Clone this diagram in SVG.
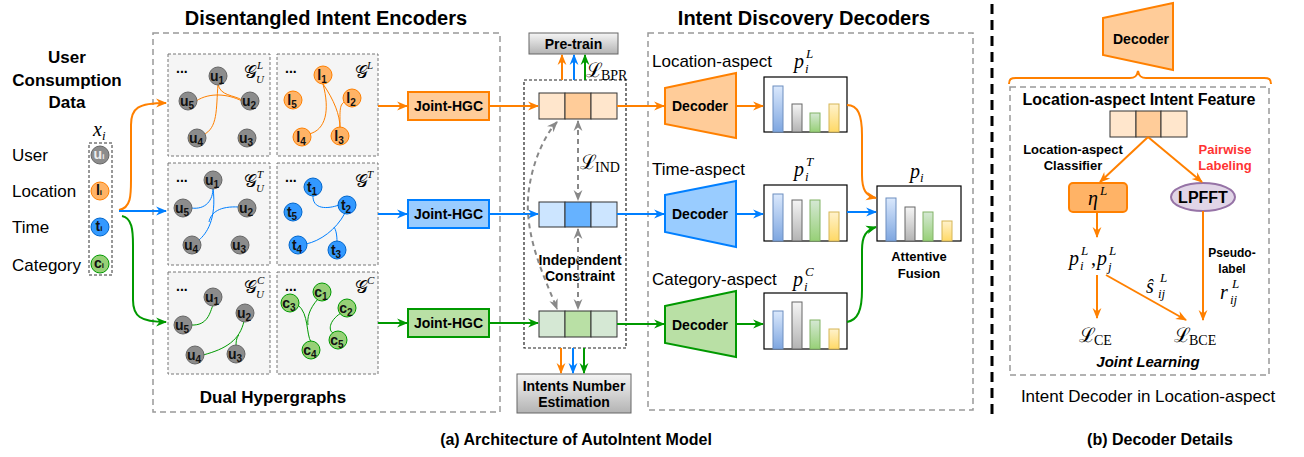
<svg xmlns="http://www.w3.org/2000/svg" width="1304" height="457" viewBox="0 0 1304 457">
<style>
.t{font-family:"Liberation Sans",Arial,sans-serif;fill:#000}
.b{font-weight:bold}
.m{font-family:"Liberation Serif","DejaVu Serif",serif;font-style:italic;fill:#000}
.cal{font-family:"DejaVu Serif","Liberation Serif",serif;fill:#000}
.rm{font-family:"Liberation Serif","DejaVu Serif",serif;fill:#000}
.sub{fill:#f5f5f5;stroke:#777;stroke-dasharray:3 2;stroke-width:1}
.big{fill:none;stroke:#999;stroke-dasharray:6 4;stroke-width:1.5}
.nu{fill:#8c8c8c;stroke:#666;stroke-width:1}
.no{fill:#FFB366;stroke:#FF8000;stroke-width:1}
.nb{fill:#3399FF;stroke:#0066CC;stroke-width:1}
.ng{fill:#97D077;stroke:#009900;stroke-width:1}
.nl{font-family:"Liberation Sans",Arial,sans-serif;font-weight:bold;font-size:14px;fill:#111;text-anchor:middle}
.eo{fill:none;stroke:#FF8000;stroke-width:1}
.eb{fill:none;stroke:#007FFF;stroke-width:1}
.eg{fill:none;stroke:#009900;stroke-width:1}
.ao{fill:none;stroke:#FF8000;stroke-width:2}
.ab{fill:none;stroke:#007FFF;stroke-width:2}
.ag{fill:none;stroke:#009900;stroke-width:2}
.ad{fill:none;stroke:#888;stroke-width:2;stroke-dasharray:5 4}
.cell{stroke:#333;stroke-width:1}
.chart{fill:#fff;stroke:#000;stroke-width:1.2}
</style>
<defs>
<marker id="mo" viewBox="0 0 10 10" refX="9" refY="5" markerWidth="11" markerHeight="11" markerUnits="userSpaceOnUse" orient="auto"><path d="M0,1 L10,5 L0,9 L3,5 z" fill="#FF8000"/></marker>
<marker id="mb" viewBox="0 0 10 10" refX="9" refY="5" markerWidth="11" markerHeight="11" markerUnits="userSpaceOnUse" orient="auto"><path d="M0,1 L10,5 L0,9 L3,5 z" fill="#007FFF"/></marker>
<marker id="mg" viewBox="0 0 10 10" refX="9" refY="5" markerWidth="11" markerHeight="11" markerUnits="userSpaceOnUse" orient="auto"><path d="M0,1 L10,5 L0,9 L3,5 z" fill="#009900"/></marker>
<marker id="md" viewBox="0 0 10 10" refX="9" refY="5" markerWidth="11" markerHeight="11" markerUnits="userSpaceOnUse" orient="auto-start-reverse"><path d="M0,1 L10,5 L0,9 L3,5 z" fill="#888"/></marker>
<linearGradient id="gray" x1="0" y1="0" x2="0" y2="1"><stop offset="0" stop-color="#F5F5F5"/><stop offset="1" stop-color="#B3B3B3"/></linearGradient>
<linearGradient id="gbl" x1="0" y1="0" x2="0" y2="1"><stop offset="0" stop-color="#DAE8FC"/><stop offset="1" stop-color="#7EA6E0"/></linearGradient>
<linearGradient id="ggy" x1="0" y1="0" x2="0" y2="1"><stop offset="0" stop-color="#F5F5F5"/><stop offset="1" stop-color="#B3B3B3"/></linearGradient>
<linearGradient id="ggr" x1="0" y1="0" x2="0" y2="1"><stop offset="0" stop-color="#D5E8D4"/><stop offset="1" stop-color="#97D077"/></linearGradient>
<linearGradient id="gye" x1="0" y1="0" x2="0" y2="1"><stop offset="0" stop-color="#FFF2CC"/><stop offset="1" stop-color="#FFD966"/></linearGradient>
</defs>

<!-- Titles -->
<text class="t b" x="326" y="25" font-size="20" text-anchor="middle">Disentangled Intent Encoders</text>
<text class="t b" x="804" y="25" font-size="20" text-anchor="middle">Intent Discovery Decoders</text>

<!-- Input data -->
<g id="input">
<text class="t b" font-size="17" text-anchor="middle"><tspan x="67" y="63">User</tspan><tspan x="67" y="86">Consumption</tspan><tspan x="67" y="108">Data</tspan></text>
<text class="m" x="93" y="136" font-size="20">x<tspan font-size="13" dy="4">i</tspan></text>
<rect x="89" y="143" width="23" height="132" fill="none" stroke="#333" stroke-dasharray="3 2"/>
<text class="t" font-size="17"><tspan x="12" y="161">User</tspan><tspan x="12" y="197">Location</tspan><tspan x="12" y="233">Time</tspan><tspan x="12" y="271">Category</tspan></text>
<circle class="nu" cx="100" cy="155" r="9"/><text class="nl" x="99" y="159" font-size="11" fill="#eee" style="fill:#eee">u<tspan font-size="8">i</tspan></text>
<circle class="no" cx="100" cy="191" r="9"/><text class="nl" x="99" y="195" font-size="11">l<tspan font-size="8">i</tspan></text>
<circle class="nb" cx="100" cy="227" r="9"/><text class="nl" x="99" y="231" font-size="11">t<tspan font-size="8">i</tspan></text>
<circle class="ng" cx="100" cy="264" r="9"/><text class="nl" x="99" y="268" font-size="11">c<tspan font-size="8">i</tspan></text>
</g>

<!-- Encoder panel -->
<g id="encoder-panel">
<rect class="big" x="153" y="33" width="347" height="379"/>
<text class="t b" x="273" y="403" font-size="17" text-anchor="middle">Dual Hypergraphs</text>
</g>

<!-- Hypergraph row 1 (location) -->
<g id="hg-user-L">
<rect class="sub" x="168" y="54" width="102" height="102"/>
<text class="t b" x="176" y="73" font-size="14">...</text>
<text class="cal" x="244" y="78" font-size="18">𝒢</text><text class="m" x="257" y="69" font-size="11">L</text><text class="m" x="256" y="83" font-size="11">U</text>
<path class="eo" d="M196,101 C210,92 228,94 242,101"/>
<path class="eo" d="M218,84 C220,96 234,95 242,100"/>
<path class="eo" d="M218,84 C216,110 218,128 203,135"/>
<circle class="nu" cx="218" cy="76" r="9"/><text class="nl" x="217" y="81">u<tspan font-size="10" dy="3">1</tspan></text>
<circle class="nu" cx="188" cy="101" r="9"/><text class="nl" x="187" y="106">u<tspan font-size="10" dy="3">5</tspan></text>
<circle class="nu" cx="250" cy="101" r="9"/><text class="nl" x="249" y="106">u<tspan font-size="10" dy="3">2</tspan></text>
<circle class="nu" cx="197" cy="138" r="9"/><text class="nl" x="196" y="143">u<tspan font-size="10" dy="3">4</tspan></text>
<circle class="nu" cx="247" cy="138" r="9"/><text class="nl" x="246" y="143">u<tspan font-size="10" dy="3">3</tspan></text>
</g>
<g id="hg-item-L">
<rect class="sub" x="277" y="54" width="101" height="102"/>
<text class="t b" x="285" y="73" font-size="14">...</text>
<text class="cal" x="355" y="78" font-size="18">𝒢</text><text class="m" x="367" y="69" font-size="11">L</text>
<path class="eo" d="M323,84 C330,110 326,130 309,134"/>
<path class="eo" d="M323,84 C334,100 340,115 340,128"/>
<path class="eo" d="M346,101 C339,104 340,110 340,128"/>
<circle class="no" cx="323" cy="75" r="9"/><text class="nl" x="322" y="80">l<tspan font-size="10" dy="3">1</tspan></text>
<circle class="no" cx="293" cy="100" r="9"/><text class="nl" x="292" y="105">l<tspan font-size="10" dy="3">5</tspan></text>
<circle class="no" cx="352" cy="98" r="9"/><text class="nl" x="351" y="103">l<tspan font-size="10" dy="3">2</tspan></text>
<circle class="no" cx="302" cy="137" r="9"/><text class="nl" x="301" y="142">l<tspan font-size="10" dy="3">4</tspan></text>
<circle class="no" cx="340" cy="136" r="9"/><text class="nl" x="339" y="141">l<tspan font-size="10" dy="3">3</tspan></text>
</g>

<!-- Hypergraph row 2 (time) -->
<g id="hg-user-T">
<rect class="sub" x="168" y="163" width="102" height="102"/>
<text class="t b" x="176" y="182" font-size="14">...</text>
<text class="cal" x="244" y="187" font-size="18">𝒢</text><text class="m" x="257" y="178" font-size="11">T</text><text class="m" x="256" y="192" font-size="11">U</text>
<path class="eb" d="M191,208 C206,210 213,200 213,188"/>
<path class="eb" d="M213,188 C217,220 206,234 199,240"/>
<path class="eb" d="M239,207 C220,206 211,212 209,222"/>
<circle class="nu" cx="213" cy="180" r="9"/><text class="nl" x="212" y="185">u<tspan font-size="10" dy="3">1</tspan></text>
<circle class="nu" cx="183" cy="208" r="9"/><text class="nl" x="182" y="213">u<tspan font-size="10" dy="3">5</tspan></text>
<circle class="nu" cx="247" cy="208" r="9"/><text class="nl" x="246" y="213">u<tspan font-size="10" dy="3">2</tspan></text>
<circle class="nu" cx="192" cy="245" r="9"/><text class="nl" x="191" y="250">u<tspan font-size="10" dy="3">4</tspan></text>
<circle class="nu" cx="240" cy="245" r="9"/><text class="nl" x="239" y="250">u<tspan font-size="10" dy="3">3</tspan></text>
</g>
<g id="hg-item-T">
<rect class="sub" x="277" y="163" width="101" height="102"/>
<text class="t b" x="285" y="182" font-size="14">...</text>
<text class="cal" x="355" y="187" font-size="18">𝒢</text><text class="m" x="367" y="178" font-size="11">T</text>
<path class="eb" d="M313,195 C312,210 328,209 339,205"/>
<path class="eb" d="M345,213 C336,230 320,241 306,244"/>
<path class="eb" d="M337,242 C337,235 336,230 334,227"/>
<circle class="nb" cx="313" cy="187" r="9"/><text class="nl" x="312" y="192">t<tspan font-size="10" dy="3">1</tspan></text>
<circle class="nb" cx="293" cy="212" r="9"/><text class="nl" x="292" y="217">t<tspan font-size="10" dy="3">5</tspan></text>
<circle class="nb" cx="347" cy="205" r="9"/><text class="nl" x="346" y="210">t<tspan font-size="10" dy="3">2</tspan></text>
<circle class="nb" cx="298" cy="245" r="9"/><text class="nl" x="297" y="250">t<tspan font-size="10" dy="3">4</tspan></text>
<circle class="nb" cx="337" cy="250" r="9"/><text class="nl" x="336" y="255">t<tspan font-size="10" dy="3">3</tspan></text>
</g>

<!-- Hypergraph row 3 (category) -->
<g id="hg-user-C">
<rect class="sub" x="168" y="272" width="102" height="102"/>
<text class="t b" x="176" y="291" font-size="14">...</text>
<text class="cal" x="244" y="293" font-size="18">𝒢</text><text class="m" x="257" y="284" font-size="11">C</text><text class="m" x="256" y="298" font-size="11">U</text>
<path class="eg" d="M191,325 C208,326 210,312 213,305"/>
<path class="eg" d="M244,321 C240,340 226,349 203,355"/>
<path class="eg" d="M236,346 C236,340 237,337 239,335"/>
<circle class="nu" cx="213" cy="297" r="9"/><text class="nl" x="212" y="302">u<tspan font-size="10" dy="3">1</tspan></text>
<circle class="nu" cx="183" cy="325" r="9"/><text class="nl" x="182" y="330">u<tspan font-size="10" dy="3">5</tspan></text>
<circle class="nu" cx="245" cy="313" r="9"/><text class="nl" x="244" y="318">u<tspan font-size="10" dy="3">2</tspan></text>
<circle class="nu" cx="195" cy="355" r="9"/><text class="nl" x="194" y="360">u<tspan font-size="10" dy="3">4</tspan></text>
<circle class="nu" cx="236" cy="354" r="9"/><text class="nl" x="235" y="359">u<tspan font-size="10" dy="3">3</tspan></text>
</g>
<g id="hg-item-C">
<rect class="sub" x="277" y="272" width="101" height="102"/>
<text class="t b" x="285" y="291" font-size="14">...</text>
<text class="cal" x="355" y="293" font-size="18">𝒢</text><text class="m" x="367" y="284" font-size="11">C</text>
<path class="eg" d="M298,305 C309,314 306,334 311,342"/>
<path class="eg" d="M318,299 C309,309 307,318 308,325"/>
<path class="eg" d="M341,313 C327,322 329,333 334,333"/>
<circle class="ng" cx="322" cy="292" r="9"/><text class="nl" x="321" y="297">c<tspan font-size="10" dy="3">1</tspan></text>
<circle class="ng" cx="290" cy="303" r="9"/><text class="nl" x="289" y="308">c<tspan font-size="10" dy="3">3</tspan></text>
<circle class="ng" cx="347" cy="308" r="9"/><text class="nl" x="346" y="313">c<tspan font-size="10" dy="3">2</tspan></text>
<circle class="ng" cx="311" cy="350" r="9"/><text class="nl" x="310" y="355">c<tspan font-size="10" dy="3">4</tspan></text>
<circle class="ng" cx="338" cy="340" r="9"/><text class="nl" x="337" y="345">c<tspan font-size="10" dy="3">5</tspan></text>
</g>

<!-- Joint-HGC -->
<g id="jhgc-L"><rect x="408" y="92" width="81" height="28" fill="#FFCC99" stroke="#FF8000" stroke-width="2"/><text class="t b" x="448.5" y="111" font-size="14" text-anchor="middle">Joint-HGC</text></g>
<g id="jhgc-T"><rect x="408" y="200" width="81" height="28" fill="#99CCFF" stroke="#007FFF" stroke-width="2"/><text class="t b" x="448.5" y="219" font-size="14" text-anchor="middle">Joint-HGC</text></g>
<g id="jhgc-C"><rect x="408" y="309" width="81" height="28" fill="#B9E0A5" stroke="#009900" stroke-width="2"/><text class="t b" x="448.5" y="328" font-size="14" text-anchor="middle">Joint-HGC</text></g>

<!-- Middle column -->
<g id="feature-box">
<rect x="524" y="80" width="102" height="268" fill="none" stroke="#222" stroke-dasharray="3 2" stroke-width="1.2"/>
</g>
<g id="feat-L">
<rect class="cell" x="539" y="93" width="26" height="26" fill="#FFE6CC"/><rect class="cell" x="565" y="93" width="26" height="26" fill="#FFCC99"/><rect class="cell" x="591" y="93" width="26" height="26" fill="#FFE6CC"/>
</g>
<g id="feat-T">
<rect class="cell" x="539" y="202" width="26" height="25" fill="#CCE5FF"/><rect class="cell" x="565" y="202" width="26" height="25" fill="#66B2FF"/><rect class="cell" x="591" y="202" width="26" height="25" fill="#CCE5FF"/>
</g>
<g id="feat-C">
<rect class="cell" x="539" y="311" width="26" height="26" fill="#D5E8D4"/><rect class="cell" x="565" y="311" width="26" height="26" fill="#B9E0A5"/><rect class="cell" x="591" y="311" width="26" height="26" fill="#D5E8D4"/>
</g>
<g id="pretrain">
<rect x="529" y="33" width="89" height="21" fill="url(#gray)" stroke="#666"/>
<text class="t b" x="573.5" y="49" font-size="14" text-anchor="middle">Pre-train</text>
</g>
<text class="cal" x="586" y="77" font-size="20">ℒ</text><text class="rm" x="601" y="80" font-size="14">BPR</text>
<text class="cal" x="580" y="169" font-size="20">ℒ</text><text class="rm" x="595" y="172" font-size="14">IND</text>
<text class="t b" x="580" y="265" font-size="14" text-anchor="middle">Independent</text>
<text class="t b" x="580" y="281" font-size="14" text-anchor="middle">Constraint</text>
<g id="estimate">
<rect x="517" y="374" width="114" height="39" fill="url(#gray)" stroke="#666"/>
<text class="t b" x="574" y="391" font-size="14" text-anchor="middle">Intents Number</text>
<text class="t b" x="574" y="407" font-size="14" text-anchor="middle">Estimation</text>
</g>

<!-- Decoder panel -->
<g id="decoder-panel">
<rect class="big" x="648" y="33" width="325" height="377"/>
<text class="t" x="652" y="67" font-size="17">Location-aspect</text>
<text class="t" x="652" y="175" font-size="17">Time-aspect</text>
<text class="t" x="652" y="285" font-size="17">Category-aspect</text>
<text class="m" x="794" y="68" font-size="20">p</text><text class="m" x="806" y="58" font-size="13">L</text><text class="m" x="805" y="73" font-size="13">i</text>
<text class="m" x="794" y="176" font-size="20">p</text><text class="m" x="806" y="166" font-size="13">T</text><text class="m" x="805" y="181" font-size="13">i</text>
<text class="m" x="793" y="286" font-size="20">p</text><text class="m" x="805" y="276" font-size="13">C</text><text class="m" x="804" y="291" font-size="13">i</text>
<text class="m" x="910" y="178" font-size="20">p<tspan font-size="13" dy="4">i</tspan></text>
<text class="t b" x="919" y="261" font-size="13" text-anchor="middle">Attentive</text>
<text class="t b" x="919" y="278" font-size="13" text-anchor="middle">Fusion</text>
</g>
<g id="dec-L"><polygon points="665,88 736,73 736,138 665,124" fill="#FFCC99" stroke="#FF8000" stroke-width="2"/><text class="t b" x="700" y="111" font-size="14" text-anchor="middle">Decoder</text></g>
<g id="dec-T"><polygon points="665,195 736,181 736,247 665,232" fill="#99CCFF" stroke="#007FFF" stroke-width="2"/><text class="t b" x="700" y="219" font-size="14" text-anchor="middle">Decoder</text></g>
<g id="dec-C"><polygon points="665,306 736,291 736,357 665,343" fill="#B9E0A5" stroke="#009900" stroke-width="2"/><text class="t b" x="700" y="330" font-size="14" text-anchor="middle">Decoder</text></g>

<g id="chart-L">
<rect class="chart" x="764" y="77" width="83" height="55"/>
<rect x="773" y="86" width="10" height="46" fill="url(#gbl)" stroke="#6C8EBF"/>
<rect x="792" y="104" width="10" height="28" fill="url(#ggy)" stroke="#666"/>
<rect x="810" y="113" width="10" height="19" fill="url(#ggr)" stroke="#82B366"/>
<rect x="829" y="104" width="10" height="28" fill="url(#gye)" stroke="#D6B656"/>
</g>
<g id="chart-T">
<rect class="chart" x="764" y="185" width="83" height="56"/>
<rect x="773" y="194" width="10" height="47" fill="url(#gbl)" stroke="#6C8EBF"/>
<rect x="792" y="200" width="10" height="41" fill="url(#ggy)" stroke="#666"/>
<rect x="810" y="200" width="10" height="41" fill="url(#ggr)" stroke="#82B366"/>
<rect x="829" y="212" width="10" height="29" fill="url(#gye)" stroke="#D6B656"/>
</g>
<g id="chart-C">
<rect class="chart" x="764" y="293" width="83" height="56"/>
<rect x="773" y="311" width="10" height="38" fill="url(#gbl)" stroke="#6C8EBF"/>
<rect x="792" y="302" width="10" height="47" fill="url(#ggy)" stroke="#666"/>
<rect x="810" y="320" width="10" height="29" fill="url(#ggr)" stroke="#82B366"/>
<rect x="829" y="329" width="10" height="20" fill="url(#gye)" stroke="#D6B656"/>
</g>
<g id="chart-fused">
<rect class="chart" x="877" y="186" width="84" height="55"/>
<rect x="886" y="198" width="10" height="43" fill="url(#gbl)" stroke="#6C8EBF"/>
<rect x="905" y="207" width="10" height="34" fill="url(#ggy)" stroke="#666"/>
<rect x="923" y="212" width="10" height="29" fill="url(#ggr)" stroke="#82B366"/>
<rect x="942" y="221" width="10" height="20" fill="url(#gye)" stroke="#D6B656"/>
</g>

<!-- separator -->
<line x1="992" y1="4" x2="992" y2="416" stroke="#000" stroke-width="3" stroke-dasharray="10 6"/>

<!-- Right panel: decoder details -->
<g id="detail-decoder"><polygon points="1103,18 1173,3 1173,70 1103,55" fill="#FFCC99" stroke="#FF8000" stroke-width="2"/><text class="t b" x="1141" y="44" font-size="14" text-anchor="middle">Decoder</text></g>
<path d="M1009,84 C1009,79 1011,78 1016,78 L1130,78 C1135,78 1137,76 1138,71 C1139,76 1141,78 1146,78 L1264,78 C1269,78 1271,79 1271,84" fill="none" stroke="#FF8000" stroke-width="2"/>
<g id="detail-panel">
<rect class="big" x="1010" y="87" width="259" height="288"/>
<text class="t b" x="1139" y="105" font-size="16" text-anchor="middle">Location-aspect Intent Feature</text>
<text class="t b" x="1073" y="154" font-size="13" text-anchor="middle">Location-aspect</text>
<text class="t b" x="1073" y="170" font-size="13" text-anchor="middle">Classifier</text>
<text class="t b" x="1225" y="154" font-size="13" text-anchor="middle" style="fill:#FF3333">Pairwise</text>
<text class="t b" x="1225" y="170" font-size="13" text-anchor="middle" style="fill:#FF3333">Labeling</text>
<text class="t b" x="1232" y="257" font-size="12" text-anchor="middle">Pseudo-</text>
<text class="t b" x="1232" y="273" font-size="12" text-anchor="middle">label</text>
<text class="t b" x="1148" y="367" font-size="15" text-anchor="middle" font-style="italic">Joint Learning</text>
</g>
<g id="detail-feat">
<rect class="cell" x="1110" y="111" width="26" height="26" fill="#FFE6CC"/><rect class="cell" x="1136" y="111" width="25" height="26" fill="#FFCC99"/><rect class="cell" x="1161" y="111" width="26" height="26" fill="#FFE6CC"/>
</g>
<g id="eta"><rect x="1069" y="183" width="58" height="29" rx="4" fill="#FFB366" stroke="#FF8000" stroke-width="2"/><text class="m" x="1088" y="205" font-size="20">η</text><text class="m" x="1100" y="195" font-size="13">L</text></g>
<g id="lpfft"><ellipse cx="1203" cy="197" rx="32" ry="14" fill="#E1D5E7" stroke="#9673A6" stroke-width="2"/><text class="t b" x="1203" y="203" font-size="16" text-anchor="middle">LPFFT</text></g>
<g id="probs">
<text class="m" x="1069" y="265" font-size="20">p</text><text class="m" x="1081" y="255" font-size="13">L</text><text class="m" x="1080" y="270" font-size="13">i</text>
<text class="rm" x="1091" y="265" font-size="20">,</text>
<text class="m" x="1097" y="265" font-size="20">p</text><text class="m" x="1109" y="255" font-size="13">L</text><text class="m" x="1108" y="271" font-size="13">j</text>
</g>
<g id="shat"><text class="m" x="1146" y="293" font-size="20">ŝ</text><text class="m" x="1160" y="282" font-size="13">L</text><text class="m" x="1158" y="298" font-size="13">ij</text></g>
<g id="rij"><text class="m" x="1220" y="299" font-size="20">r</text><text class="m" x="1232" y="288" font-size="13">L</text><text class="m" x="1230" y="304" font-size="13">ij</text></g>
<g id="lce"><text class="cal" x="1079" y="342" font-size="20">ℒ</text><text class="rm" x="1094" y="345" font-size="14">CE</text></g>
<g id="lbce"><text class="cal" x="1174" y="342" font-size="20">ℒ</text><text class="rm" x="1189" y="345" font-size="14">BCE</text></g>
<text class="t" x="1148" y="402" font-size="17" text-anchor="middle">Intent Decoder in Location-aspect</text>

<!-- Captions -->
<text class="t b" x="576" y="445" font-size="16" text-anchor="middle">(a) Architecture of AutoIntent Model</text>
<text class="t b" x="1160" y="445" font-size="16" text-anchor="middle">(b) Decoder Details</text>

<!-- Connectors -->
<g id="connectors">
<path class="ao" d="M119,210 C131,208 131,195 131,180 L131,125 C131,108 138,103 166,103" marker-end="url(#mo)"/>
<path class="ab" d="M119,211 L166,211" marker-end="url(#mb)"/>
<path class="ag" d="M122,216 C132,218 133,230 133,245 L133,300 C133,316 140,322 166,322" marker-end="url(#mg)"/>
<path class="ao" d="M378,106 L407,106" marker-end="url(#mo)"/>
<path class="ab" d="M378,214 L407,214" marker-end="url(#mb)"/>
<path class="ag" d="M378,323 L407,323" marker-end="url(#mg)"/>
<path class="ao" d="M490,106 L538,106" marker-end="url(#mo)"/>
<path class="ab" d="M490,214 L538,214" marker-end="url(#mb)"/>
<path class="ag" d="M490,323 L538,323" marker-end="url(#mg)"/>
<path class="ao" d="M562,80 L562,55" marker-end="url(#mo)"/>
<path class="ab" d="M574,80 L574,55" marker-end="url(#mb)"/>
<path class="ag" d="M585,80 L585,55" marker-end="url(#mg)"/>
<path class="ao" d="M561,348 L561,373" marker-end="url(#mo)"/>
<path class="ab" d="M573,348 L573,373" marker-end="url(#mb)"/>
<path class="ag" d="M584,348 L584,373" marker-end="url(#mg)"/>
<path class="ad" d="M578,121 L578,200" marker-start="url(#md)" marker-end="url(#md)"/>
<path class="ad" d="M578,229 L578,309" marker-start="url(#md)" marker-end="url(#md)"/>
<path class="ad" d="M557,122 C540,140 526,180 528,212 C530,250 548,285 557,309" marker-start="url(#md)" marker-end="url(#md)"/>
<path class="ao" d="M617,106 L664,106" marker-end="url(#mo)"/>
<path class="ab" d="M617,214 L664,214" marker-end="url(#mb)"/>
<path class="ag" d="M617,324 L664,324" marker-end="url(#mg)"/>
<path class="ao" d="M736,106 L763,106" marker-end="url(#mo)"/>
<path class="ab" d="M736,214 L763,214" marker-end="url(#mb)"/>
<path class="ag" d="M736,324 L763,324" marker-end="url(#mg)"/>
<path class="ao" d="M847,105 C858,105 862,115 862,135 L862,175 C862,190 866,196 876,198" marker-end="url(#mo)"/>
<path class="ab" d="M847,212 L876,212" marker-end="url(#mb)"/>
<path class="ag" d="M847,322 C858,320 862,310 862,290 L862,250 C862,236 866,230 876,227" marker-end="url(#mg)"/>
<path class="ao" d="M1148,137 L1100,182" marker-end="url(#mo)"/>
<path class="ao" d="M1148,137 L1202,182" marker-end="url(#mo)"/>
<path class="ao" d="M1097,212 L1097,237" marker-end="url(#mo)"/>
<path class="ao" d="M1097,275 L1097,318" marker-end="url(#mo)"/>
<path class="ao" d="M1106,275 L1186,320" marker-end="url(#mo)"/>
<path class="ao" d="M1203,211 L1203,320" marker-end="url(#mo)"/>
</g>
</svg>
